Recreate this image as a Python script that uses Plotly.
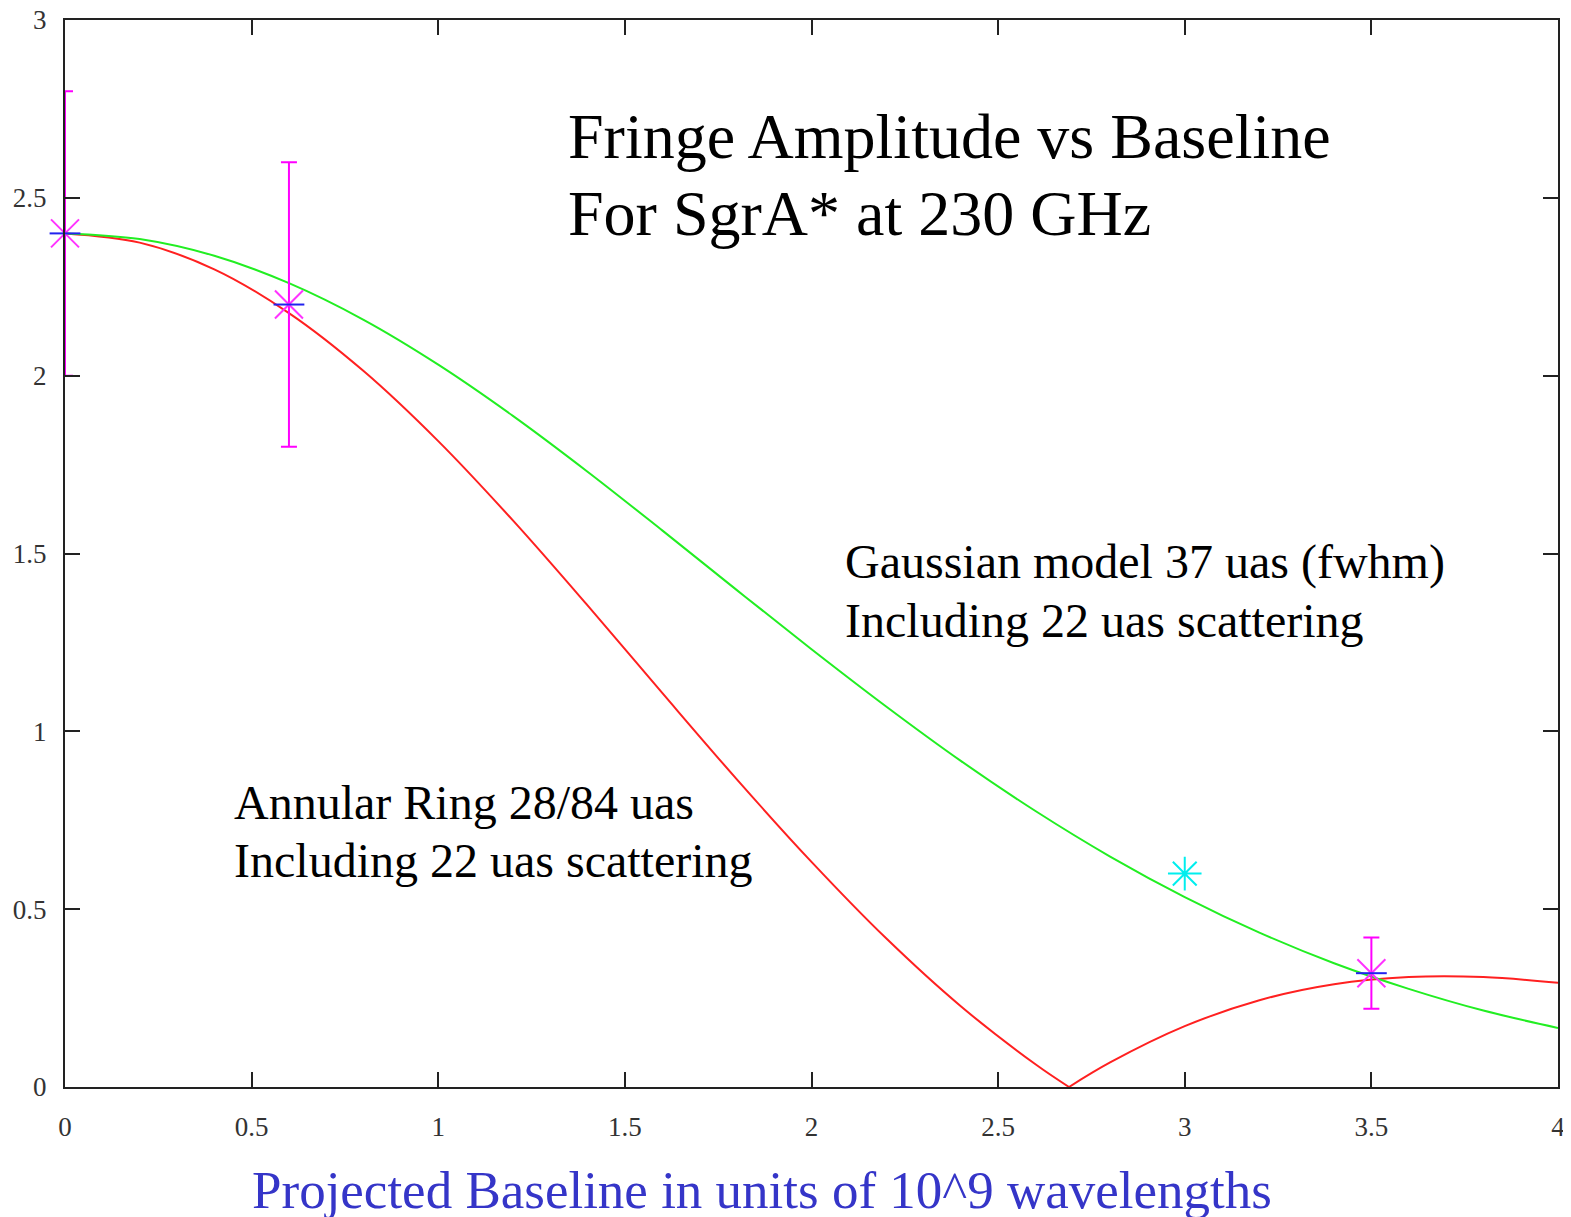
import plotly.graph_objects as go

# Gaussian model curve (37 uas fwhm incl. scattering)
gauss_u = [0.0, 0.2, 0.4, 0.6, 0.8, 1.0, 1.2, 1.4, 1.6, 1.8, 2.0,
           2.2, 2.4, 2.6, 2.8, 3.0, 3.2, 3.4, 3.6, 3.8, 4.0]
gauss_amp = [2.400, 2.384, 2.337, 2.260, 2.157, 2.031, 1.887, 1.730, 1.565, 1.397, 1.231,
             1.070, 0.917, 0.776, 0.648, 0.534, 0.434, 0.348, 0.276, 0.215, 0.166]

# Annular ring curve (28/84 uas incl. scattering); null at index ring_null
ring_u = [0.0, 0.2, 0.4, 0.6, 0.8, 1.0, 1.2, 1.4, 1.6, 1.8, 2.0, 2.2, 2.4, 2.6,
          2.69, 2.8, 3.0, 3.2, 3.4, 3.6, 3.8, 4.0]
ring_amp = [2.400, 2.374, 2.299, 2.176, 2.013, 1.816, 1.593, 1.354, 1.108, 0.865, 0.633, 0.418, 0.227, 0.064,
            0.0, 0.069, 0.171, 0.244, 0.289, 0.309, 0.309, 0.293]
ring_null = 14

# measured fringe amplitudes
obs_u = [0.0, 0.6, 3.5]
obs_amp = [2.4, 2.2, 0.32]
obs_err = [0.4, 0.4, 0.1]

# single detection without error bar
det_u = [3.0]
det_amp = [0.6]

SERIF = "Liberation Serif, Times New Roman, serif"

fig = go.Figure()

fig.add_trace(go.Scatter(x=ring_u[:ring_null + 1], y=ring_amp[:ring_null + 1], mode="lines",
                         line=dict(color="#ff2020", width=2, shape="spline"), hoverinfo="skip"))
fig.add_trace(go.Scatter(x=ring_u[ring_null:], y=ring_amp[ring_null:], mode="lines",
                         line=dict(color="#ff2020", width=2, shape="spline"), hoverinfo="skip"))
fig.add_trace(go.Scatter(x=gauss_u, y=gauss_amp, mode="lines",
                         line=dict(color="#22ee22", width=2, shape="spline")))

fig.add_trace(go.Scatter(
    x=obs_u, y=obs_amp, mode="markers", cliponaxis=False,
    marker=dict(symbol="x-thin", size=28, line=dict(color="#ff33ff", width=2)),
    error_y=dict(type="data", array=obs_err, color="#ff00ff", thickness=2, width=8)))
fig.add_trace(go.Scatter(
    x=obs_u, y=obs_amp, mode="markers", cliponaxis=False,
    marker=dict(symbol="line-ew", size=22, line=dict(color="#2222ee", width=2))))
fig.add_trace(go.Scatter(
    x=det_u, y=det_amp, mode="markers", cliponaxis=False,
    marker=dict(symbol="asterisk", size=28, line=dict(color="#00eeee", width=2))))

# text labels
texts = [
    ("Fringe Amplitude vs Baseline", 1.343, 2.673, 64),
    ("For SgrA* at 230 GHz", 1.343, 2.456, 64),
    ("Gaussian model 37 uas (fwhm)", 2.084, 1.477, 48),
    ("Including 22 uas scattering", 2.084, 1.311, 48),
    ("Annular Ring 28/84 uas", 0.447, 0.801, 48),
    ("Including 22 uas scattering", 0.447, 0.638, 48),
]
for t, x, y, s in texts:
    fig.add_annotation(x=x, y=y, text=t, showarrow=False, xanchor="left", yanchor="middle",
                       font=dict(family=SERIF, size=s, color="black"))

fig.add_annotation(x=0.467, y=-0.097, xref="paper", yref="paper",
                   text="Projected Baseline in units of 10^9 wavelengths", showarrow=False,
                   xanchor="center", yanchor="middle",
                   font=dict(family=SERIF, size=53, color="#3535c8"))

axis_style = dict(showgrid=False, zeroline=False, showline=True, linecolor="#222",
                  linewidth=2, mirror="ticks", ticks="inside", ticklen=15, tickwidth=2,
                  tickcolor="#222", automargin=False, ticklabeloverflow="allow",
                  tickfont=dict(family=SERIF, size=27, color="#333"))

fig.update_xaxes(range=[0, 4], tickvals=[0, 0.5, 1, 1.5, 2, 2.5, 3, 3.5, 4],
                 ticktext=["0", "0.5", "1", "1.5", "2", "2.5", "3", "3.5", "4"],
                 ticklabelstandoff=15, **axis_style)
fig.update_yaxes(range=[0, 3], tickvals=[0, 0.5, 1, 1.5, 2, 2.5, 3],
                 ticktext=["0", "0.5", "1", "1.5", "2", "2.5", "3"],
                 ticklabelstandoff=11, **axis_style)

# page body adds an 8px offset, so margins are shifted to compensate
fig.update_layout(width=1571, height=1217, showlegend=False,
                  plot_bgcolor="white", paper_bgcolor="white",
                  margin=dict(l=57, r=21, t=12, b=138))

fig.write_html("out.html")
